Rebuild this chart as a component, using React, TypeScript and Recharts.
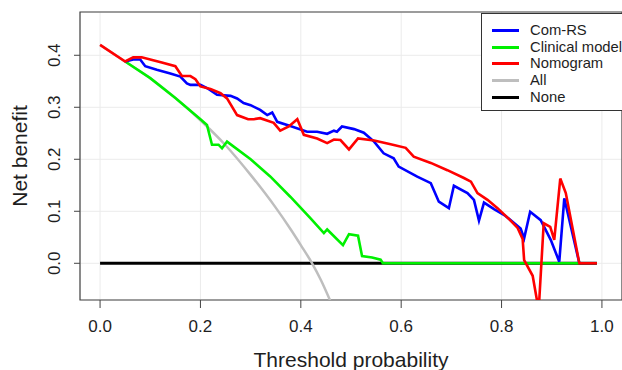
import { LineChart, Line, XAxis, YAxis, CartesianGrid, ReferenceArea, Label } from 'recharts';

const xTicks = [0, 0.2, 0.4, 0.6, 0.8, 1.0];
const yTicks = [0, 0.1, 0.2, 0.3, 0.4];

const comRsT = [0.05, 0.066, 0.08, 0.09, 0.113, 0.14, 0.16, 0.173, 0.18, 0.2, 0.213, 0.233, 0.26, 0.273, 0.286, 0.3, 0.319, 0.333, 0.343, 0.353, 0.379, 0.4125, 0.4325, 0.4525, 0.466, 0.472, 0.482, 0.506, 0.5255, 0.546, 0.565, 0.585, 0.595, 0.632, 0.659, 0.675, 0.695, 0.705, 0.732, 0.745, 0.755, 0.765, 0.785, 0.808, 0.838, 0.845, 0.857, 0.878, 0.898, 0.915, 0.925, 0.955];
const comRsNB = [0.388, 0.392, 0.392, 0.379, 0.372, 0.365, 0.359, 0.346, 0.343, 0.343, 0.337, 0.324, 0.322, 0.317, 0.308, 0.304, 0.295, 0.285, 0.29, 0.272, 0.264, 0.253, 0.253, 0.249, 0.255, 0.253, 0.263, 0.258, 0.251, 0.234, 0.2115, 0.202, 0.186, 0.1665, 0.154, 0.1185, 0.106, 0.149, 0.135, 0.122, 0.082, 0.1166, 0.104, 0.091, 0.067, 0.048, 0.099, 0.083, 0.045, 0.003, 0.125, 0];

const clinicalT = [0.05, 0.1, 0.15, 0.2, 0.213, 0.223, 0.236, 0.243, 0.253, 0.3, 0.339, 0.379, 0.419, 0.446, 0.4525, 0.484, 0.496, 0.514, 0.522, 0.542, 0.559, 0.5635, 0.955];
const clinicalNB = [0.388, 0.356, 0.318, 0.277, 0.266, 0.228, 0.228, 0.221, 0.234, 0.2, 0.167, 0.128, 0.087, 0.058, 0.065, 0.035, 0.056, 0.053, 0.014, 0.011, 0.007, 0, 0];

const nomogramT = [0, 0.05, 0.066, 0.083, 0.1, 0.123, 0.15, 0.163, 0.18, 0.19, 0.2, 0.22, 0.24, 0.253, 0.273, 0.295, 0.306, 0.319, 0.346, 0.359, 0.376, 0.393, 0.406, 0.4325, 0.4525, 0.466, 0.479, 0.496, 0.514, 0.546, 0.579, 0.609, 0.625, 0.659, 0.692, 0.725, 0.739, 0.752, 0.772, 0.792, 0.818, 0.832, 0.842, 0.845, 0.862, 0.874, 0.884, 0.897, 0.905, 0.917, 0.928, 0.955, 0.99];
const nomogramNB = [0.42, 0.388, 0.396, 0.396, 0.392, 0.386, 0.379, 0.36, 0.36, 0.354, 0.34, 0.335, 0.327, 0.317, 0.285, 0.277, 0.277, 0.279, 0.27, 0.255, 0.263, 0.277, 0.247, 0.24, 0.231, 0.238, 0.237, 0.219, 0.24, 0.236, 0.229, 0.222, 0.205, 0.193, 0.179, 0.164, 0.157, 0.135, 0.122, 0.106, 0.082, 0.068, 0.047, 0.006, -0.024, -0.09, 0.077, 0.07, 0.045, 0.163, 0.135, 0, 0];

const allT = [0, 0.05, 0.1, 0.15, 0.2, 0.25, 0.3, 0.35, 0.38, 0.4, 0.4225, 0.44, 0.46];
const allNB = [0.42, 0.388, 0.356, 0.318, 0.275, 0.227, 0.17, 0.107, 0.065, 0.035, 0, -0.032, -0.075];

const noneT = [0, 0.99];
const noneNB = [0, 0];

const seriesNames = ['Com-RS', 'Clinical model', 'Nomogram', 'All', 'None'];
const seriesColors = ['#0000ff', '#00f000', '#ff0000', '#bebebe', '#000000'];

const X_DOMAIN: [number, number] = [-0.04, 1.04];
const Y_DOMAIN: [number, number] = [-0.0706, 0.4832];

const toPoints = (t: number[], nb: number[]) => t.map((x, i) => ({ t: x, nb: nb[i] }));

const font = "'Liberation Sans', Arial, sans-serif";
const textColor = '#1e1e1e';

const YTick = ({ x, y, payload }: any) => (
  <text transform={`translate(${x - 12},${y}) rotate(-90)`} textAnchor="middle" fontSize={17} fill={textColor} fontFamily={font}>
    {Number(payload.value).toFixed(1)}
  </text>
);

const XTick = ({ x, y, payload }: any) => (
  <text x={x} y={y + 12} textAnchor="middle" fontSize={17} fill={textColor} fontFamily={font}>
    {Number(payload.value).toFixed(1)}
  </text>
);

const LegendBox = () => (
  <div style={{ position: 'absolute', left: 481, top: 13, width: 150, height: 98, border: '1px solid #333', background: '#fff', fontFamily: font, fontSize: 14.8, color: textColor, boxSizing: 'border-box' }}>
    {seriesNames.map((name, i) => (
      <div key={name} style={{ position: 'absolute', left: 0, top: 8 + i * 16.7, height: 17, display: 'flex', alignItems: 'center' }}>
        <div style={{ marginLeft: 10, width: 27, height: 3, background: seriesColors[i] }} />
        <span style={{ marginLeft: 11, whiteSpace: 'nowrap', lineHeight: '17px' }}>{name}</span>
      </div>
    ))}
  </div>
);

const App = () => {
  const lines = [
    { data: toPoints(noneT, noneNB), color: seriesColors[4], width: 3, type: 'linear' },
    { data: toPoints(allT, allNB), color: seriesColors[3], width: 2.5, type: 'monotone' },
    { data: toPoints(clinicalT, clinicalNB), color: seriesColors[1], width: 2.6, type: 'linear' },
    { data: toPoints(comRsT, comRsNB), color: seriesColors[0], width: 2.6, type: 'linear' },
    { data: toPoints(nomogramT, nomogramNB), color: seriesColors[2], width: 2.6, type: 'linear' },
  ];

  return (
    <div style={{ position: 'absolute', left: 0, top: 0, width: 622, height: 370, background: '#fff', overflow: 'hidden' }}>
      <LineChart width={622} height={370} margin={{ top: 12, right: 0, bottom: 0, left: 0 }}>
        <CartesianGrid stroke="#ebebeb" strokeWidth={1} />
        <XAxis
          dataKey="t"
          type="number"
          domain={X_DOMAIN}
          ticks={xTicks}
          allowDataOverflow
          height={70}
          axisLine={false}
          tickSize={8}
          tickMargin={12}
          tickLine={{ stroke: '#444' }}
          tick={<XTick />}
        >
          <Label
            content={({ viewBox }: any) => (
              <text x={viewBox.x + viewBox.width / 2} y={viewBox.y + 67} textAnchor="middle" fontSize={21} fill={textColor} fontFamily={font}>
                Threshold probability
              </text>
            )}
          />
        </XAxis>
        <YAxis
          type="number"
          domain={Y_DOMAIN}
          ticks={yTicks}
          allowDataOverflow
          width={80}
          axisLine={false}
          tickSize={6}
          tickLine={{ stroke: '#444' }}
          tick={<YTick />}
        >
          <Label
            content={({ viewBox }: any) => (
              <text transform={`translate(${viewBox.x + 27},${viewBox.y + viewBox.height / 2}) rotate(-90)`} textAnchor="middle" fontSize={21} fill={textColor} fontFamily={font}>
                Net benefit
              </text>
            )}
          />
        </YAxis>
        {lines.map((l, i) => (
          <Line
            key={i}
            data={l.data}
            dataKey="nb"
            type={l.type as any}
            stroke={l.color}
            strokeWidth={l.width}
            dot={false}
            activeDot={false}
            isAnimationActive={false}
          />
        ))}
        <ReferenceArea x1={X_DOMAIN[0]} x2={X_DOMAIN[1]} y1={Y_DOMAIN[0]} y2={Y_DOMAIN[1]} fill="none" fillOpacity={0} stroke="#444" strokeWidth={1.2} />
      </LineChart>
      <LegendBox />
    </div>
  );
};

export default App;
